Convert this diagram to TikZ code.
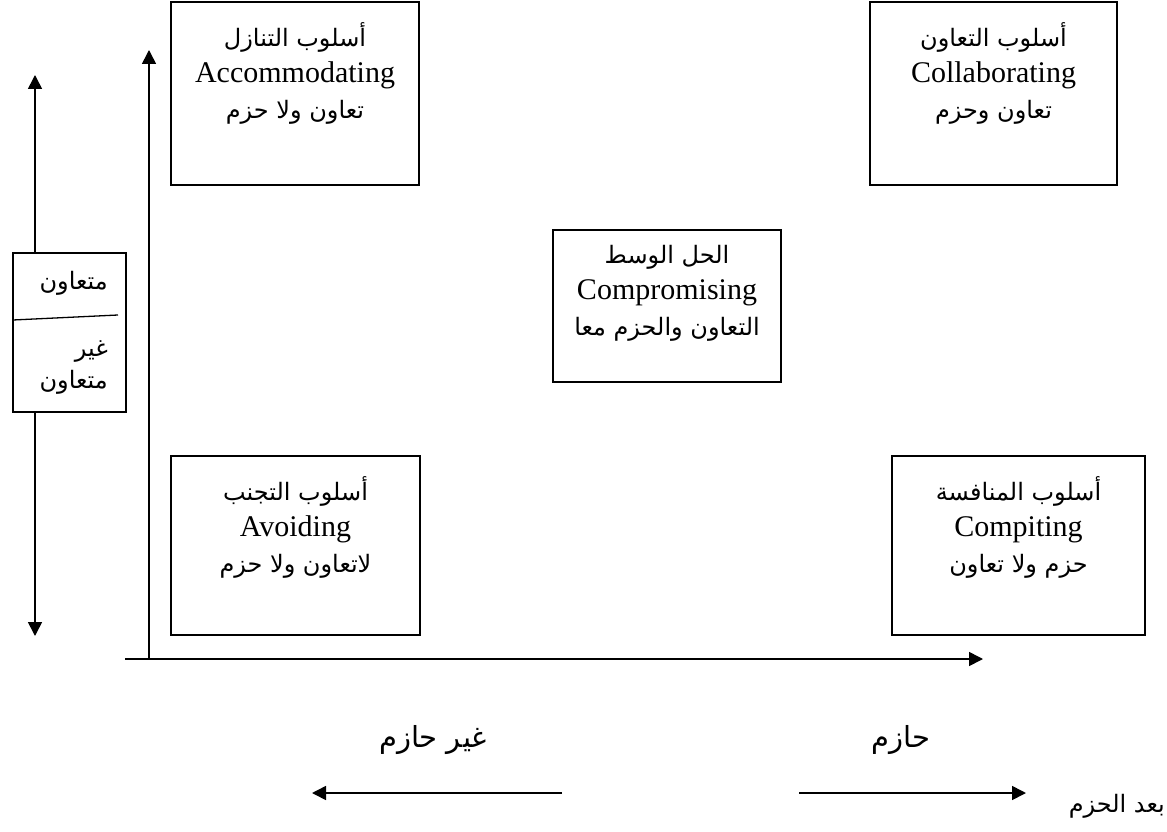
\documentclass[tikz,border=0pt]{standalone}
\usepackage{fontspec}
\setmainfont{Liberation Serif}
\newfontfamily\arabicfont[Script=Arabic]{DejaVu Sans}
\TeXXeTstate=1
\usetikzlibrary{arrows.meta}
% Arabic run, right to left
\newcommand{\artxt}[1]{{\fontsize{24}{36}\selectfont\arabicfont\beginR #1\endR}}
\newcommand{\arbig}[1]{{\fontsize{29}{36}\selectfont\arabicfont\beginR #1\endR}}
\begin{document}
\begin{tikzpicture}[x=1pt,y=-1pt,
  box/.style={draw, line width=1.8pt, rectangle, inner sep=0pt},
  txt/.style={align=center, inner sep=0pt, font=\fontsize{30}{36}\selectfont},
  sidetxt/.style={align=right, inner sep=0pt, font=\fontsize{30}{32}\selectfont},
  axis/.style={line width=1.6pt},
  tip/.style={-{Triangle[length=14pt,width=14pt]}}]
\useasboundingbox (0,0) rectangle (1167,832);

% style boxes
\node[box, minimum width=248pt, minimum height=183pt] (acc) at (295,93.5) {};
\node[box, minimum width=247pt, minimum height=183pt] (col) at (993.5,93.5) {};
\node[box, minimum width=228pt, minimum height=152pt] (comp) at (667,306) {};
\node[box, minimum width=249pt, minimum height=179pt] (avo) at (295.5,545.5) {};
\node[box, minimum width=253pt, minimum height=179pt] (cmp) at (1018.5,545.5) {};

\node[txt, anchor=north] (acct) at ([yshift=-21pt]acc.north)
  {\artxt{أسلوب التنازل}\\Accommodating\\\artxt{تعاون ولا حزم}};
\node[txt, anchor=north] (colt) at ([yshift=-21pt]col.north)
  {\artxt{أسلوب التعاون}\\Collaborating\\\artxt{تعاون وحزم}};
\node[txt, anchor=north] (compt) at ([yshift=-16pt]comp.north)
  {\artxt{الحل الوسط}\\Compromising\\\artxt{التعاون والحزم معا}};
\node[txt, anchor=north] (avot) at ([yshift=-21pt]avo.north)
  {\artxt{أسلوب التجنب}\\Avoiding\\\artxt{لاتعاون ولا حزم}};
\node[txt, anchor=north] (cmpt) at ([yshift=-21pt]cmp.north)
  {\artxt{أسلوب المنافسة}\\Compiting\\\artxt{حزم ولا تعاون}};

% cooperation scale on the left
\node[box, minimum width=113pt, minimum height=159pt] (lb) at (69.5,332.5) {};
\node[sidetxt, anchor=east] (coop) at (108,283) {\artxt{متعاون}};
\node[sidetxt, anchor=north east] (noncoop) at (108,340) {\artxt{غير}\\\artxt{متعاون}};
\coordinate (d1) at (13,320);
\coordinate (d2) at (118,315);
\draw[line width=1.3pt] (d1) -- (d2);
\coordinate (vtop) at (35,75);
\coordinate (vbot) at (35,636);
\draw[axis, tip] (lb.north -| vtop) -- (vtop);
\draw[axis, tip] (lb.south -| vbot) -- (vbot);

% axes
\coordinate (yb) at (149,659);
\coordinate (yt) at (149,50);
\coordinate (xl) at (125,659);
\coordinate (xr) at (983,659);
\draw[axis, tip] (yb) -- (yt);
\draw[axis, tip] (xl) -- (xr);

% assertiveness scale at the bottom
\node[inner sep=0pt] (nassert) at (433,740) {\arbig{غير حازم}};
\node[inner sep=0pt] (assert) at (901,740) {\arbig{حازم}};
\node[inner sep=0pt, anchor=east] (dim) at (1165,806) {\artxt{بعد الحزم}};
\coordinate (la) at (562,793);
\coordinate (lb2) at (312,793);
\coordinate (ra) at (799,793);
\coordinate (rb) at (1026,793);
\draw[axis, tip] (la) -- (lb2);
\draw[axis, tip] (ra) -- (rb);
\end{tikzpicture}
\end{document}
